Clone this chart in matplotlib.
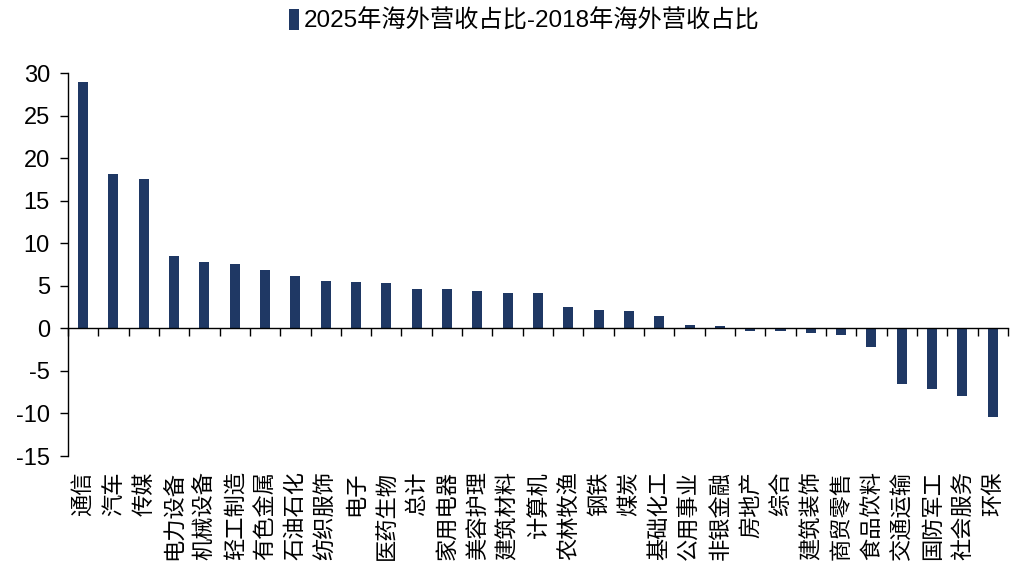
import matplotlib
matplotlib.use("Agg")
import matplotlib.pyplot as plt
from matplotlib.patches import Patch

plt.rcParams['font.family'] = ['Liberation Sans', 'Noto Sans CJK SC', 'DejaVu Sans']
plt.rcParams['axes.unicode_minus'] = False

industries = ["通信", "汽车", "传媒", "电力设备", "机械设备", "轻工制造", "有色金属", "石油石化",
              "纺织服饰", "电子", "医药生物", "总计", "家用电器", "美容护理", "建筑材料", "计算机",
              "农林牧渔", "钢铁", "煤炭", "基础化工", "公用事业", "非银金融", "房地产", "综合",
              "建筑装饰", "商贸零售", "食品饮料", "交通运输", "国防军工", "社会服务", "环保"]
diff_values = [28.9, 18.1, 17.6, 8.5, 7.8, 7.6, 6.9, 6.1,
               5.6, 5.5, 5.3, 4.6, 4.6, 4.4, 4.2, 4.1,
               2.5, 2.1, 2.0, 1.5, 0.42, 0.27, -0.27, -0.3,
               -0.55, -0.83, -2.15, -6.55, -7.1, -7.9, -10.4]
series_name = "2025年海外营收占比-2018年海外营收占比"
y_ticks = [30, 25, 20, 15, 10, 5, 0, -5, -10, -15]

bar_color = "#1f3864"

fig = plt.figure(figsize=(10.14, 5.66), dpi=100)
ax = fig.add_axes([0.067, 0.1943, 0.927, 0.6767])

x = list(range(len(industries)))
bars = ax.bar(x, diff_values, width=0.33, color=bar_color, zorder=2)

ax.set_xlim(-0.5, len(industries) - 0.5)
ax.set_ylim(-15, 30)
ax.set_yticks(y_ticks)
ax.tick_params(axis='y', direction='out', length=6, width=1, labelsize=17, pad=7)

# category separators as downward ticks on the zero line
ax.set_xticks([i - 0.5 for i in range(len(industries) + 1)])
ax.set_xticklabels([])
ax.tick_params(axis='x', direction='out', length=6, width=1)

for side in ('top', 'right'):
    ax.spines[side].set_visible(False)
ax.spines['bottom'].set_position(('data', 0))
ax.spines['bottom'].set_zorder(3)
for side in ('left', 'bottom'):
    ax.spines[side].set_linewidth(1)
    ax.spines[side].set_color('black')

# industry names below the plot area, rotated
for i, name in enumerate(industries):
    ax.annotate(name, xy=(i, 0), xycoords=('data', 'axes fraction'),
                xytext=(0, -11), textcoords='offset points',
                rotation=90, ha='center', va='top', fontsize=16,
                family=['Noto Sans CJK SC', 'DejaVu Sans'])

handle = Patch(facecolor=bar_color, edgecolor='none')
fig.legend([handle], [series_name], loc='upper center', bbox_to_anchor=(0.517, 1.022),
           frameon=False, handlelength=0.4, handleheight=0.9, handletextpad=0.2,
           prop={'family': ['Liberation Sans', 'Noto Sans CJK SC'], 'size': 17.5})

fig.savefig("out.png", dpi=100)
